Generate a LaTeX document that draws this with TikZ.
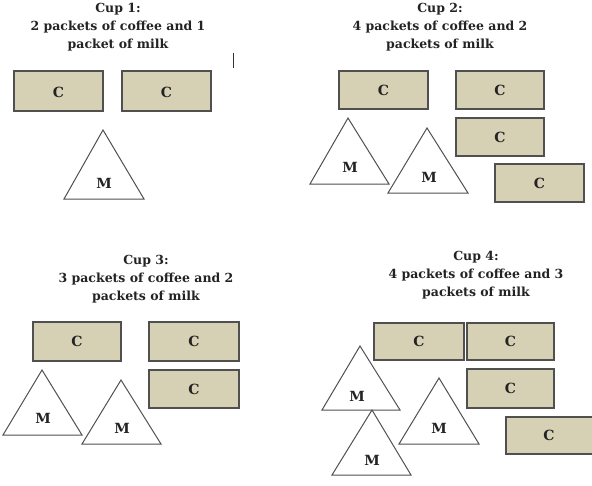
\documentclass[tikz,border=0pt]{standalone}
\usepackage{fontspec}
\setmainfont{DejaVu Serif}
\definecolor{tanfill}{RGB}{214,208,181}
\definecolor{edgegray}{RGB}{80,80,80}
\definecolor{inkcol}{RGB}{35,35,35}
\begin{document}
\begin{tikzpicture}[x=1pt,y=-1pt,
  titlestyle/.style={font=\bfseries\fontsize{12.5}{18}\selectfont, align=center, inner sep=0pt, text=inkcol},
  cbox/.style={draw=edgegray, line width=1.2pt, fill=tanfill},
  mtri/.style={draw=edgegray, line width=1pt, fill=white, line join=miter},
  lbl/.style={font=\bfseries\fontsize{14}{16}\selectfont, inner sep=0pt, text=inkcol}]
\useasboundingbox (0,0) rectangle (592,485);
\fill[white] (0,0) rectangle (592,485);
% ---------- Cup 1
\node[titlestyle] (t1) at (118,27) {Cup 1:\\2 packets of coffee and 1\\packet of milk};
\draw[line width=1pt, black!80] (233,53) -- (233,68);
\draw[cbox] (14,71) rectangle (103,111);
\node[lbl] (c11) at (58.5,92) {C};
\draw[cbox] (122,71) rectangle (211,111);
\node[lbl] (c12) at (166.5,92) {C};
\draw[mtri] (103,130) -- (144,199) -- (64,199) -- cycle;
\node[lbl] (m11) at (104,183) {M};
% ---------- Cup 2
\node[titlestyle] (t2) at (440,27) {Cup 2:\\4 packets of coffee and 2\\packets of milk};
\draw[cbox] (339,71) rectangle (428,109);
\node[lbl] (c21) at (383.5,90) {C};
\draw[cbox] (456,71) rectangle (544,109);
\node[lbl] (c22) at (500,90) {C};
\draw[cbox] (456,118) rectangle (544,156);
\node[lbl] (c23) at (500,137) {C};
\draw[cbox] (495,164) rectangle (584,202);
\node[lbl] (c24) at (539.5,183) {C};
\draw[mtri] (348,118) -- (389,184) -- (310,184) -- cycle;
\node[lbl] (m21) at (350,167) {M};
\draw[mtri] (427,128) -- (468,193) -- (388,193) -- cycle;
\node[lbl] (m22) at (429,177) {M};
% ---------- Cup 3
\node[titlestyle] (t3) at (146,279.5) {Cup 3:\\3 packets of coffee and 2\\packets of milk};
\draw[cbox] (33,322) rectangle (121,361);
\node[lbl] (c31) at (77,341.5) {C};
\draw[cbox] (149,322) rectangle (239,361);
\node[lbl] (c32) at (194,341.5) {C};
\draw[cbox] (149,370) rectangle (239,408);
\node[lbl] (c33) at (194,389) {C};
\draw[mtri] (42,370) -- (82,435) -- (3,435) -- cycle;
\node[lbl] (m31) at (43,418) {M};
\draw[mtri] (121,380) -- (161,444) -- (82,444) -- cycle;
\node[lbl] (m32) at (122,428) {M};
% ---------- Cup 4
\node[titlestyle] (t4) at (476,275) {Cup 4:\\4 packets of coffee and 3\\packets of milk};
\draw[cbox] (374,323) rectangle (464,360);
\node[lbl] (c41) at (419,341.5) {C};
\draw[cbox] (467,323) rectangle (554,360);
\node[lbl] (c42) at (510.5,341.5) {C};
\draw[cbox] (467,369) rectangle (554,408);
\node[lbl] (c43) at (510.5,388.5) {C};
\draw[cbox] (506,417) rectangle (593,454);
\node[lbl] (c44) at (549,435.5) {C};
\draw[mtri] (360,346) -- (400,410) -- (322,410) -- cycle;
\node[lbl] (m41) at (357,396) {M};
\draw[mtri] (439,378) -- (479,444) -- (399,444) -- cycle;
\node[lbl] (m42) at (439,428) {M};
\draw[mtri] (372,410) -- (411,475) -- (332,475) -- cycle;
\node[lbl] (m43) at (372,460) {M};
\end{tikzpicture}
\end{document}
